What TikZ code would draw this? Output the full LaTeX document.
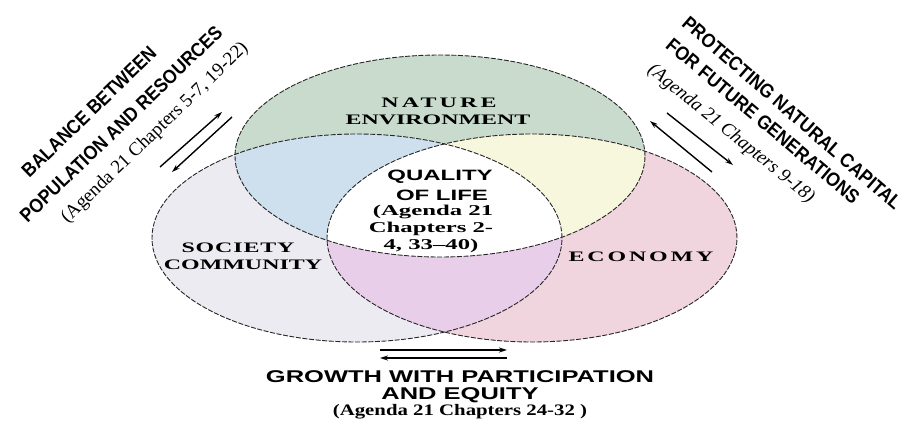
\documentclass[tikz,border=0pt]{standalone}
\usepackage{fontspec}
\setmainfont{Liberation Serif}
\newfontfamily\hsans{Liberation Sans}[FakeStretch=0.9]
\newfontfamily\qsans{Liberation Sans}[FakeStretch=1.6]
\newfontfamily\gsans{Liberation Sans}[FakeStretch=1.5]
\newfontfamily\wserif{Liberation Serif}[FakeStretch=1.65]
\newfontfamily\bserif{Liberation Serif}[FakeStretch=1.3]
\newfontfamily\nserif{Liberation Serif}
\usetikzlibrary{arrows.meta}
\definecolor{cnat}{RGB}{200,219,205}
\definecolor{csoc}{RGB}{237,235,242}
\definecolor{ceco}{RGB}{240,212,222}
\definecolor{cns}{RGB}{206,223,237}
\definecolor{cne}{RGB}{247,247,222}
\definecolor{cse}{RGB}{233,206,233}
\tikzset{
  outline/.style={draw=black!85,line width=0.9pt,dash pattern=on 5pt off 1.6pt},
  arr/.style={line width=1.4pt,-{Stealth[length=8pt,width=5pt]}},
  head/.style={font=\hsans\bfseries\fontsize{19.5}{21}\selectfont,inner sep=0pt},
  sub/.style={font=\nserif\fontsize{19}{21}\selectfont,inner sep=0pt},
  lbl/.style={font=\wserif\bfseries\fontsize{14.5}{16}\selectfont,inner sep=0pt},
  qol/.style={font=\qsans\bfseries\fontsize{15}{17}\selectfont,inner sep=0pt},
  qag/.style={font=\wserif\bfseries\fontsize{15}{17}\selectfont,inner sep=0pt},
  grw/.style={font=\gsans\bfseries\fontsize{17}{19}\selectfont,inner sep=0pt},
  gag/.style={font=\bserif\bfseries\fontsize{16}{18}\selectfont,inner sep=0pt}
}
\begin{document}
\begin{tikzpicture}[x=1pt,y=-1pt]
\useasboundingbox (0,0) rectangle (906,423);
\fill[white] (0,0) rectangle (906,423);
\def\Nat{(440,156) ellipse [x radius=205pt, y radius=101pt]}
\def\Soc{(357,238) ellipse [x radius=205pt, y radius=104pt]}
\def\Eco{(532,238) ellipse [x radius=205pt, y radius=104pt]}
\fill[cnat] \Nat;
\fill[csoc] \Soc;
\fill[ceco] \Eco;
\begin{scope}\clip \Nat; \fill[cns] \Soc; \fill[cne] \Eco; \end{scope}
\begin{scope}\clip \Soc; \fill[cse] \Eco; \end{scope}
\begin{scope}\clip \Nat; \clip \Soc; \fill[white] \Eco; \end{scope}
\draw[outline] \Nat;
\draw[outline] \Soc;
\draw[outline] \Eco;

% circle labels
\node[lbl] (nat1) at (439,103) {\addfontfeature{LetterSpace=22}NATURE};
\node[lbl] (nat2) at (438,120) {ENVIRONMENT};
\node[lbl] (soc1) at (238,248) {\addfontfeature{LetterSpace=6}SOCIETY};
\node[lbl] (soc2) at (243,265) {COMMUNITY};
\node[lbl] (eco) at (641,257) {\addfontfeature{LetterSpace=20}ECONOMY};

% centre
\node[qol] (q1) at (440,177) {QUALITY};
\node[qol] (q2) at (442,195) {OF LIFE};
\node[qag] (q3) at (433,212) {(Agenda 21};
\node[qag] (q4) at (431,229) {Chapters 2-};
\node[qag] (q5) at (431,246) {4, 33–40)};

% left heading
\node[head,rotate=44] (l1) at (89,112) {BALANCE BETWEEN};
\node[head,rotate=44] (l2) at (121,124) {POPULATION AND RESOURCES};
\node[sub,rotate=44] (l3) at (155,133) {(Agenda 21 Chapters 5-7, 19-22)};

% right heading
\node[head,rotate=-41] (r1) at (792,113) {PROTECTING NATURAL CAPITAL};
\node[head,rotate=-40] (r2) at (763,121) {FOR FUTURE GENERATIONS};
\node[sub,rotate=-39,font=\nserif\itshape\fontsize{19}{21}\selectfont] (r3) at (731,134) {(Agenda 21 Chapters 9-18)};

% bottom heading
\node[grw] (b1) at (460,377) {GROWTH WITH PARTICIPATION};
\node[grw] (b2) at (460,395) {AND EQUITY};
\node[gag] (b3) at (460,412) {(Agenda 21 Chapters 24-32 )};

% arrows
\coordinate (la1) at (160,167); \coordinate (la2) at (222,112);
\coordinate (lb1) at (232,117); \coordinate (lb2) at (172,172);
\draw[arr] (la1) -- (la2);
\draw[arr] (lb1) -- (lb2);
\coordinate (ra1) at (667,113); \coordinate (ra2) at (733,165);
\coordinate (rb1) at (712,172); \coordinate (rb2) at (650,121);
\draw[arr] (ra1) -- (ra2);
\draw[arr] (rb1) -- (rb2);
\coordinate (ba1) at (380,350); \coordinate (ba2) at (507,350);
\coordinate (bb1) at (507,358); \coordinate (bb2) at (380,358);
\draw[arr] (ba1) -- (ba2);
\draw[arr] (bb1) -- (bb2);
\end{tikzpicture}
\end{document}
